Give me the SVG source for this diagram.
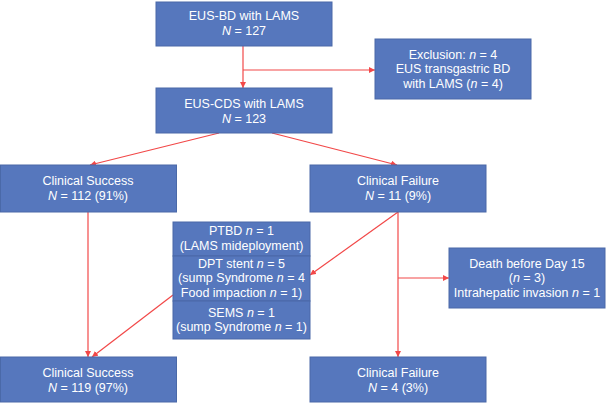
<svg xmlns="http://www.w3.org/2000/svg" width="606" height="404" viewBox="0 0 606 404">
<defs>
<style>
.box{fill:#5677BD;stroke:#4A69A8;stroke-width:1}
.t{font-family:"Liberation Sans",Arial,sans-serif;font-size:12.5px;fill:#fff;text-anchor:middle}
.i{font-style:italic}
.c{stroke:#F24848;stroke-width:1.2;fill:none;marker-end:url(#ah)}
.d{stroke:#F24848;stroke-width:1.2;fill:none}
</style>
<marker id="ah" viewBox="0 0 10 10" refX="10" refY="5" markerWidth="6" markerHeight="6" markerUnits="userSpaceOnUse" orient="auto">
<path d="M0,0 L10,5 L0,10 z" fill="#F24848"/>
</marker>
</defs>
<rect width="606" height="404" fill="#fff"/>
<g id="connectors">
<line class="c" x1="243" y1="46" x2="243" y2="88"/>
<line class="c" x1="243" y1="70" x2="375" y2="70"/>
<line class="c" x1="219" y1="133" x2="90" y2="165"/>
<line class="c" x1="272" y1="133" x2="397" y2="165"/>
<line class="c" x1="88" y1="212" x2="88" y2="357"/>
<line class="c" x1="398" y1="212" x2="310" y2="275"/>
<line class="c" x1="173" y1="295" x2="92" y2="357"/>
<line class="c" x1="398" y1="212" x2="398" y2="357"/>
<line class="c" x1="398" y1="278" x2="449" y2="278"/>
</g>
<g id="n1">
<rect class="box" x="156" y="2" width="176" height="44"/>
<text class="t" x="244" y="20">EUS-BD with LAMS</text>
<text class="t" x="244" y="35"><tspan class="i">N</tspan> = 127</text>
</g>
<g id="n2">
<rect class="box" x="375" y="39" width="156" height="60"/>
<text class="t" x="453" y="58.5">Exclusion: <tspan class="i">n</tspan> = 4</text>
<text class="t" x="453" y="73">EUS transgastric BD</text>
<text class="t" x="453" y="87.5">with LAMS (<tspan class="i">n</tspan> = 4)</text>
</g>
<g id="n3">
<rect class="box" x="156" y="88" width="176" height="45"/>
<text class="t" x="244" y="107.5">EUS-CDS with LAMS</text>
<text class="t" x="244" y="122.5"><tspan class="i">N</tspan> = 123</text>
</g>
<g id="n4">
<rect class="box" x="0.5" y="165" width="176" height="47"/>
<text class="t" x="88" y="184.5">Clinical Success</text>
<text class="t" x="88" y="199.5"><tspan class="i">N</tspan> = 112 (91%)</text>
</g>
<g id="n5">
<rect class="box" x="310" y="165" width="176" height="47"/>
<text class="t" x="398" y="184.5">Clinical Failure</text>
<text class="t" x="398" y="199.5"><tspan class="i">N</tspan> = 11 (9%)</text>
</g>
<g id="n6">
<rect class="box" x="173" y="222" width="137" height="34"/>
<text class="t" x="241.5" y="234.5">PTBD <tspan class="i">n</tspan> = 1</text>
<text class="t" x="241.5" y="249.5">(LAMS mideployment)</text>
<rect class="box" x="173" y="256" width="137" height="45"/>
<text class="t" x="241.5" y="267.5">DPT stent <tspan class="i">n</tspan> = 5</text>
<text class="t" x="241.5" y="282">(sump Syndrome <tspan class="i">n</tspan> = 4</text>
<text class="t" x="241.5" y="296.5">Food impaction <tspan class="i">n</tspan> = 1)</text>
<rect class="box" x="173" y="301" width="137" height="38"/>
<text class="t" x="241.5" y="316.5">SEMS <tspan class="i">n</tspan> = 1</text>
<text class="t" x="241.5" y="331">(sump Syndrome <tspan class="i">n</tspan> = 1)</text>
</g>
<g id="n7">
<rect class="box" x="449" y="248" width="156" height="60"/>
<text class="t" x="527" y="267.5">Death before Day 15</text>
<text class="t" x="527" y="282">(<tspan class="i">n</tspan> = 3)</text>
<text class="t" x="527" y="296.5">Intrahepatic invasion <tspan class="i">n</tspan> = 1</text>
</g>
<g id="n8">
<rect class="box" x="0.5" y="357" width="176" height="45"/>
<text class="t" x="88" y="376.5">Clinical Success</text>
<text class="t" x="88" y="391.5"><tspan class="i">N</tspan> = 119 (97%)</text>
</g>
<g id="n9">
<rect class="box" x="310" y="357" width="176" height="45"/>
<text class="t" x="398" y="376.5">Clinical Failure</text>
<text class="t" x="398" y="391.5"><tspan class="i">N</tspan> = 4 (3%)</text>
</g>
</svg>
